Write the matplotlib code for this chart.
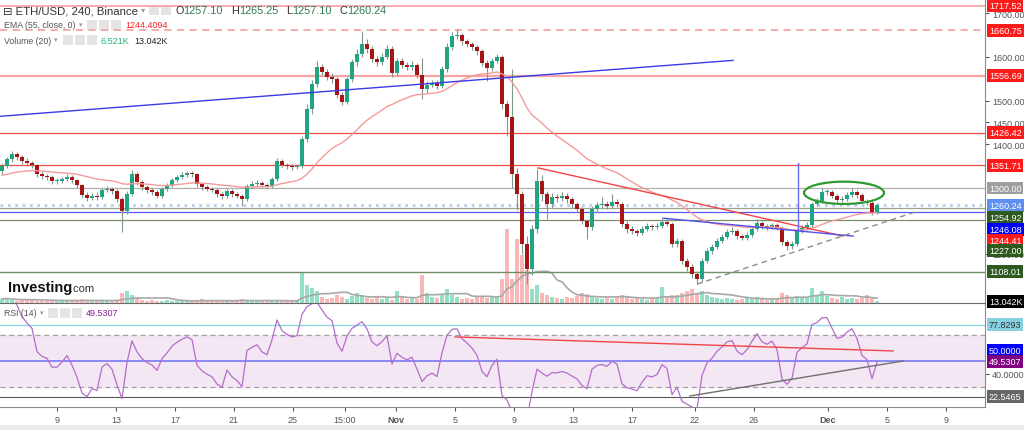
import numpy as np
import pandas as pd
import matplotlib
matplotlib.use("Agg")
import matplotlib.pyplot as plt
from matplotlib.patches import Rectangle, Ellipse

plt.rcParams['font.family'] = ['Liberation Sans', 'DejaVu Sans']

# ETH/USD candles (one candle ~ 8h)
close = [1350, 1366, 1378, 1371, 1362, 1357, 1353, 1332, 1327, 1325,
         1316, 1316, 1320, 1325, 1318, 1307, 1284, 1277, 1282, 1279,
         1295, 1298, 1293, 1275, 1247, 1286, 1332, 1314, 1302, 1295,
         1291, 1282, 1298, 1307, 1318, 1325, 1330, 1334, 1332, 1309,
         1302, 1298, 1295, 1286, 1282, 1293, 1286, 1282, 1275, 1305,
         1309, 1312, 1307, 1305, 1320, 1362, 1353, 1350, 1348, 1350,
         1412, 1481, 1538, 1577, 1565, 1554, 1549, 1513, 1497, 1549,
         1588, 1607, 1630, 1618, 1595, 1588, 1600, 1618, 1563, 1591,
         1582, 1577, 1582, 1559, 1527, 1536, 1540, 1533, 1572, 1623,
         1648, 1650, 1636, 1630, 1623, 1613, 1586, 1575, 1591, 1600,
         1492, 1462, 1332, 1286, 1172, 1115, 1206, 1316, 1286, 1263,
         1279, 1277, 1282, 1275, 1263, 1252, 1225, 1211, 1252, 1261,
         1263, 1259, 1268, 1263, 1218, 1206, 1202, 1197, 1206, 1213,
         1211, 1213, 1222, 1218, 1172, 1179, 1133, 1119, 1103, 1092,
         1133, 1156, 1165, 1179, 1188, 1199, 1202, 1190, 1186, 1193,
         1206, 1220, 1213, 1211, 1215, 1209, 1176, 1167, 1172, 1202,
         1209, 1215, 1263, 1270, 1291, 1291, 1282, 1273, 1275, 1284,
         1291, 1284, 1270, 1266, 1243, 1260.24]
high = [1358, 1372, 1385, 1382, 1375, 1368, 1362, 1356, 1338, 1333,
        1330, 1322, 1326, 1331, 1329, 1321, 1310, 1290, 1288, 1290,
        1300, 1305, 1303, 1297, 1280, 1292, 1341, 1336, 1318, 1307,
        1300, 1296, 1303, 1312, 1323, 1330, 1336, 1340, 1339, 1335,
        1314, 1307, 1303, 1299, 1291, 1298, 1297, 1290, 1286, 1310,
        1315, 1318, 1316, 1311, 1326, 1368, 1366, 1358, 1355, 1356,
        1418, 1492, 1546, 1590, 1584, 1572, 1562, 1555, 1520, 1555,
        1595, 1618, 1659, 1640, 1624, 1602, 1608, 1628, 1624, 1598,
        1597, 1588, 1590, 1587, 1597, 1545, 1548, 1546, 1580, 1632,
        1656, 1664, 1654, 1642, 1635, 1628, 1618, 1592, 1598, 1607,
        1604, 1498, 1572, 1345, 1292, 1190, 1215, 1343, 1330, 1292,
        1288, 1286, 1290, 1288, 1280, 1268, 1257, 1230, 1258, 1268,
        1280, 1270, 1286, 1274, 1267, 1224, 1212, 1207, 1212, 1219,
        1218, 1220, 1230, 1228, 1222, 1186, 1183, 1140, 1125, 1110,
        1140, 1162, 1172, 1186, 1195, 1206, 1210, 1207, 1195, 1199,
        1212, 1228, 1225, 1218, 1221, 1220, 1213, 1181, 1178, 1208,
        1216, 1222, 1268, 1278, 1300, 1298, 1295, 1287, 1281, 1290,
        1300, 1295, 1288, 1274, 1270, 1265.25]
low = [1332, 1345, 1360, 1364, 1356, 1350, 1346, 1326, 1320, 1318,
       1310, 1309, 1311, 1316, 1312, 1300, 1277, 1270, 1272, 1273,
       1275, 1290, 1286, 1268, 1200, 1240, 1282, 1306, 1296, 1289,
       1284, 1276, 1278, 1293, 1303, 1314, 1320, 1326, 1325, 1303,
       1296, 1292, 1290, 1279, 1275, 1278, 1280, 1276, 1259, 1271,
       1300, 1304, 1302, 1299, 1300, 1316, 1347, 1343, 1342, 1343,
       1346, 1405, 1470, 1530, 1558, 1546, 1540, 1505, 1490, 1492,
       1542, 1580, 1600, 1610, 1588, 1580, 1582, 1594, 1555, 1556,
       1575, 1570, 1571, 1552, 1503, 1518, 1530, 1526, 1528, 1566,
       1616, 1640, 1628, 1622, 1615, 1605, 1578, 1545, 1568, 1585,
       1480, 1420, 1300, 1250, 1150, 1080, 1100, 1198, 1270, 1230,
       1255, 1268, 1270, 1266, 1255, 1244, 1218, 1184, 1205, 1246,
       1255, 1252, 1254, 1256, 1210, 1198, 1195, 1190, 1192, 1201,
       1205, 1206, 1208, 1212, 1165, 1166, 1126, 1110, 1095, 1080,
       1085, 1128, 1150, 1160, 1174, 1183, 1194, 1184, 1180, 1181,
       1188, 1201, 1207, 1205, 1206, 1203, 1170, 1158, 1160, 1168,
       1198, 1204, 1210, 1258, 1265, 1284, 1276, 1267, 1268, 1270,
       1280, 1278, 1265, 1260, 1238, 1240]
first_open = 1340
ema_start = 1328
volume = [12, 15, 9, 6, 8, 12, 9, 6, 5, 8,
          6, 9, 6, 5, 8, 9, 12, 8, 6, 5,
          8, 6, 5, 9, 30, 36, 24, 18, 9, 6,
          8, 5, 6, 9, 6, 5, 8, 6, 5, 9,
          12, 6, 5, 6, 9, 5, 6, 8, 12, 9,
          6, 5, 8, 6, 5, 9, 6, 5, 6, 8,
          90, 54, 45, 36, 18, 12, 15, 24, 18, 12,
          21, 30, 24, 15, 12, 18, 12, 15, 9, 36,
          18, 12, 15, 12, 84, 30, 18, 15, 24, 42,
          24, 18, 12, 15, 12, 18, 21, 15, 18, 21,
          72, 222, 72, 192, 144, 100, 42, 54, 30, 24,
          18, 15, 12, 18, 15, 21, 30, 27, 18, 15,
          12, 15, 12, 18, 24, 18, 12, 15, 12, 9,
          15, 12, 48, 18, 24, 24, 30, 36, 42, 30,
          36, 24, 18, 15, 12, 15, 12, 9, 12, 15,
          12, 18, 12, 9, 12, 15, 30, 24, 18, 21,
          15, 18, 45, 24, 36, 21, 15, 12, 18, 12,
          15, 12, 15, 24, 18, 6.5]

# price scale ticks that are not hidden under the level tags
price_ticks = [1150, 1400, 1450, 1500, 1600, 1700]

# drawn levels on the price panel
levels = [1717.52, 1660.75, 1556.69, 1426.42, 1351.71, 1300.00, 1260.24, 1254.92, 1246.08, 1227.00, 1108.01]
level_colors = ['#f6a5a5', '#f6a5a5', '#f6a5a5', '#f24a4a', '#f24a4a', '#b0b0b0', '#b8cdf0', '#9aa58c', '#5a5af5', '#7f8f6c', '#738f62']
level_styles = ['-', (0, (4, 3)), '-', '-', '-', '-', ':', '-', '-', '-', '-']
level_widths = [1.3, 1.3, 1.6, 0.9, 0.9, 0.9, 2.0, 0.9, 0.9, 0.9, 1.0]

# drawn trend lines (candle index, price)
blue_long = ([-0.4, 146.2], [1464, 1592])
red_down = ([107.2, 168.2], [1346, 1190])
blue_short = ([132.2, 170.2], [1231, 1190])
grey_dash = ([139.0, 182.6], [1080, 1245])
blue_vert = ([159.2, 159.2], [1202, 1358])
ellipse_c = (168.4, 1289)
ellipse_wh = (16, 51)

rsi_red = ([90.6, 178.2], [68.5, 57.7])
rsi_grey = ([137.6, 180.2], [23.1, 50.0])

tick_idx = [11, 22.8, 34.6, 46.4, 58.2, 68.6, 78.8, 90.6, 102.4, 114.2, 126, 138.6, 150.4, 165.2, 177, 188.8]
tick_text = ['9', '13', '17', '21', '25', '15:00', 'Nov', '5', '9', '13', '17', '22', '26', 'Dec', '5', '9']

opens = [first_open] + close[:-1]
n = len(close)
x = np.arange(n)
o = np.array(opens, dtype=float)
c = np.array(close, dtype=float)
up = c >= o

s = pd.Series(c)
ema = pd.Series([ema_start] + close).ewm(span=33, adjust=False).mean()[1:].values
d = s.diff()
g = d.clip(lower=0).ewm(alpha=1 / 7, adjust=False).mean()
l = (-d.clip(upper=0)).ewm(alpha=1 / 7, adjust=False).mean()
rsi = 100 - 100 / (1 + g / l)
vol_ma = pd.Series(volume).rolling(10, min_periods=1).mean()

W, H = 1024, 431
fig = plt.figure(figsize=(W / 100, H / 100), dpi=100)
renderer = fig.canvas.get_renderer()


def fx(px):
    return px / W


def fy(py):
    return 1 - py / H


ax = fig.add_axes([0, fy(304), fx(985), 304 / H])
vax = ax.twinx()
ax.set_zorder(vax.get_zorder() + 1)
ax.patch.set_visible(False)
ax2 = fig.add_axes([0, fy(408), fx(985), 104 / H], sharex=ax)

# volume
vcol = np.where(up, '#93e0c4', '#f9b7b7')
vax.bar(x, volume, width=0.8, color=vcol, zorder=1)
vax.plot(x, vol_ma, color='#a8a8a8', lw=1.2, zorder=2)
vax.set_ylim(0, 912)
vax.axis('off')

# levels
for lv, lc, ls, lw in zip(levels, level_colors, level_styles, level_widths):
    ax.axhline(lv, color=lc, ls=ls, lw=lw, zorder=1)

# candles
body_lo = np.minimum(o, c)
body_h = np.maximum(np.abs(c - o), 1.2)
ax.vlines(x, low, high, color='#7f9a8a', lw=0.8, zorder=3)
ax.bar(x, body_h, bottom=body_lo, width=0.62,
       color=np.where(up, '#1fa583', '#a81414'), zorder=4)

ax.plot(x, ema, color='#f59a9a', lw=1.0, zorder=5)

ax.plot(*blue_long, color='#3a3ae6', lw=1.0, zorder=5)
ax.plot(*red_down, color='#f04545', lw=1.0, zorder=5)
ax.plot(*blue_short, color='#5050e8', lw=1.0, zorder=5)
ax.plot(*grey_dash, color='#8a8f85', lw=1.0, ls=(0, (4, 3)), zorder=5)
ax.plot(*blue_vert, color='#6a6af0', lw=1.0, zorder=5)
ax.add_patch(Ellipse(ellipse_c, ellipse_wh[0], ellipse_wh[1], fill=False, ec='#2f9a2f', lw=1.6, zorder=6))

ax.set_xlim(-0.4, 196.6)
ax.set_ylim(1036.9, 1732.4)
ax.yaxis.tick_right()
ax.set_yticks(price_ticks)
ax.set_yticklabels([f'{v:.2f}' for v in price_ticks])
ax.tick_params(axis='y', labelsize=6.5, colors='#555555', length=3, pad=2)
ax.tick_params(axis='x', bottom=False, labelbottom=False)
for sp in ['left', 'top']:
    ax.spines[sp].set_visible(False)
ax.spines['right'].set_color('#8a8a8a')
ax.spines['bottom'].set_color('#6a6a6a')


def tag(axis, yv, text, bg, fg='white'):
    axis.text(1.004, yv, text, transform=axis.get_yaxis_transform(), fontsize=6.5, color=fg,
              va='center', ha='left', zorder=20, clip_on=False,
              bbox=dict(boxstyle='square,pad=0.22', fc=bg, ec='none'))


tag(ax, 1717.52, '1717.52', '#ff1a1a')
tag(ax, 1660.75, '1660.75', '#ff1a1a')
tag(ax, 1556.69, '1556.69', '#ff1a1a')
tag(ax, 1426.42, '1426.42', '#ff1a1a')
tag(ax, 1351.71, '1351.71', '#ff1a1a')
tag(ax, 1300.00, '1300.00', '#9e9e9e')
tag(ax, 1260.24, '1260.24', '#5f8ff0')
tag(ax, 1233.5, '1254.92', '#2f5a1f')
tag(ax, 1206.0, '1246.08', '#0000ff')
tag(ax, 1181.0, '1244.41', '#ff1a1a')
tag(ax, 1156.0, '1227.00', '#2f5a1f')
tag(ax, 1108.01, '1108.01', '#2f5a1f')
tag(ax, 1040.0, '13.042K', '#000000')

# RSI panel
ax2.axhspan(30, 70, color='#f3e7f4', zorder=0)
ax2.axhline(70, color='#a0a0a0', ls=(0, (4, 3)), lw=0.9)
ax2.axhline(30, color='#a0a0a0', ls=(0, (4, 3)), lw=0.9)
ax2.axhline(77.8293, color='#8fd7e3', lw=1.0)
ax2.axhline(50, color='#7a7af5', lw=1.2)
ax2.axhline(22.5465, color='#5a5a5a', lw=0.8)
ax2.plot(x, rsi, color='#b56ccb', lw=0.9, zorder=3)
ax2.plot(*rsi_red, color='#f04545', lw=1.0, zorder=4)
ax2.plot(*rsi_grey, color='#707070', lw=1.0, zorder=4)
ax2.set_ylim(14.6, 94.6)
ax2.yaxis.tick_right()
ax2.set_yticks([40])
ax2.set_yticklabels(['40.0000'])
ax2.tick_params(axis='y', labelsize=6.5, colors='#555555', length=3, pad=2)
ax2.set_xticks(tick_idx)
ax2.set_xticklabels(tick_text)
ax2.tick_params(axis='x', labelsize=6.5, colors='#555555', length=3, pad=3)
for lab in ax2.get_xticklabels():
    if lab.get_text() in ('Nov', 'Dec'):
        lab.set_fontweight('bold')
for sp in ['left', 'top']:
    ax2.spines[sp].set_visible(False)
ax2.spines['right'].set_color('#8a8a8a')
ax2.spines['bottom'].set_color('#8a8a8a')

tag(ax2, 77.8293, '77.8293', '#86d0e0', '#333333')
tag(ax2, 57.7, '50.0000', '#0000ff')
tag(ax2, 49.5307, '49.5307', '#800080')
tag(ax2, 22.5465, '22.5465', '#666666')


# legend rows: parts drawn left to right, each after the previous one
def legend_row(x0, yc, parts):
    px = x0
    for part in parts:
        if part[0] == 'box':
            for k in range(part[1]):
                fig.add_artist(Rectangle((fx(px), fy(yc + 5)), fx(10), 10 / H,
                                         transform=fig.transFigure, fc='#e4e4e4', ec='none'))
                px += 12
            px += 2
        else:
            txt, col, size, gap = part
            t = fig.text(fx(px), fy(yc), txt, fontsize=size, color=col, va='center')
            px = t.get_window_extent(renderer).x1 + gap


legend_row(3, 11, [('\u229f ETH/USD, 240, Binance', '#333333', 8.2, 3), ('\u25be', '#999999', 6, 4),
                   ('box', 2), ('O', '#333333', 7.8, 0), ('1257.10', '#2e7d4f', 7.8, 8),
                   ('H', '#333333', 7.8, 0), ('1265.25', '#2e7d4f', 7.8, 8),
                   ('L', '#333333', 7.8, 0), ('1257.10', '#2e7d4f', 7.8, 8),
                   ('C', '#333333', 7.8, 0), ('1260.24', '#2e7d4f', 7.8, 8)])
legend_row(4, 26, [('EMA (55, close, 0)', '#555555', 6.3, 3), ('\u25be', '#999999', 5, 5),
                   ('box', 3), ('1244.4094', '#ff2020', 6.5, 4)])
legend_row(4, 41, [('Volume (20)', '#555555', 6.3, 3), ('\u25be', '#999999', 5, 5),
                   ('box', 3), ('6.521K', '#22b573', 6.5, 5), ('13.042K', '#222222', 6.5, 4)])
legend_row(4, 314, [('RSI (14)', '#555555', 6.3, 3), ('\u25be', '#999999', 5, 5),
                    ('box', 3), ('49.5307', '#8a1a9a', 6.5, 4)])

legend_row(8, 288, [('Investing', '#111111', 10.5, 0)])
fig.texts[-1].set_fontweight('bold')
fig.text(fx(70), fy(289), '.com', fontsize=8, color='#333333', va='center')

fig.add_artist(Rectangle((0, 0), 1, 5 / H, transform=fig.transFigure, fc='#ececec', ec='none'))

fig.savefig('out.png', dpi=100)
